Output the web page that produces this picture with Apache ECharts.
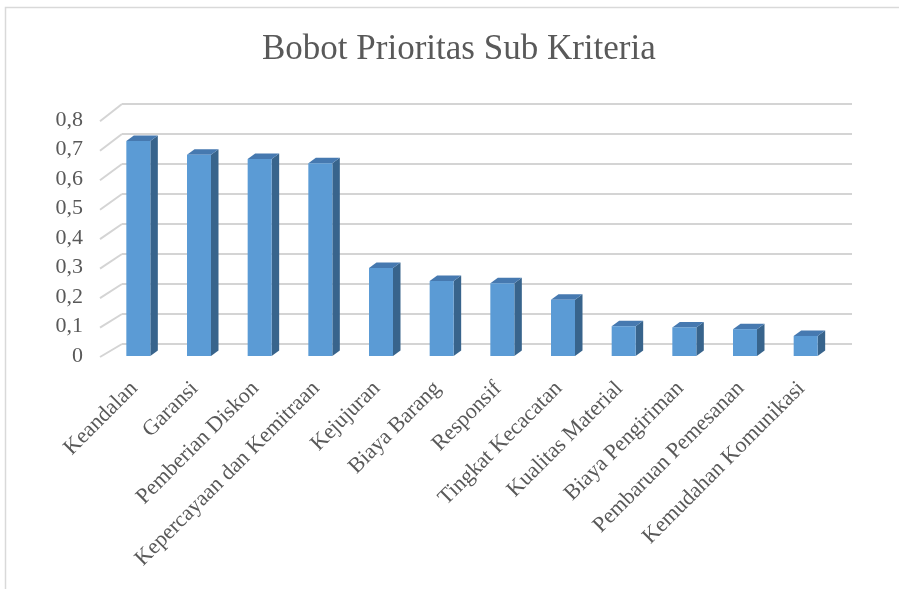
<!DOCTYPE html>
<html>
<head>
<meta charset="utf-8">
<script src="https://cdn.jsdelivr.net/npm/echarts@6/dist/echarts.min.js"></script>
<style>
  html, body { margin: 0; padding: 0; background: #fff; }
  #chart { width: 899px; height: 589px; }
</style>
</head>
<body>
<div id="chart"></div>
<script>
// data
const categories = ['Keandalan', 'Garansi', 'Pemberian Diskon', 'Kepercayaan dan Kemitraan', 'Kejujuran',
  'Biaya Barang', 'Responsif', 'Tingkat Kecacatan', 'Kualitas Material', 'Biaya Pengiriman',
  'Pembaruan Pemesanan', 'Kemudahan Komunikasi']
const weights = [0.729, 0.682, 0.668, 0.653, 0.298, 0.254, 0.247, 0.191, 0.101, 0.097, 0.091, 0.068]
const yTicks = [0, 0.1, 0.2, 0.3, 0.4, 0.5, 0.6, 0.7, 0.8]

const serif = '"Liberation Serif", "Times New Roman", serif'
const textColor = '#595959'
const gridColor = '#d4d4d4'

let myChart = echarts.init(document.getElementById('chart'))

// 3d-looking column: front face + side + top
function renderBar(params, api) {
  let cx = api.coord([api.value(0), 0])[0]
  let yb = api.coord([api.value(0), 0])[1]
  let yt = api.coord([api.value(0), api.value(1)])[1]
  let w = 24, dx = 7.5, dy = 5.5
  let x0 = cx - w / 2, x1 = cx + w / 2
  return {
    type: 'group',
    children: [
      { type: 'polygon', shape: { points: [[x1, yt], [x1 + dx, yt - dy], [x1 + dx, yb - dy], [x1, yb]] },
        style: { fill: '#38648c' } },
      { type: 'polygon', shape: { points: [[x0, yt], [x1, yt], [x1 + dx, yt - dy], [x0 + dx, yt - dy]] },
        style: { fill: '#4679b0' } },
      { type: 'rect', shape: { x: x0, y: yt, width: w, height: yb - yt },
        style: { fill: '#5b9bd5' } }
    ]
  }
}

// little slanted lines joining the front value axis to the back wall
function renderSlant(params, api) {
  let v = api.value(0)
  let p = api.coord([0, v])
  let xb = params.coordSys.x
  return {
    type: 'line',
    shape: { x1: xb, y1: p[1], x2: xb - 22, y2: p[1] + 13 + v * 5.4 },
    style: { stroke: gridColor, lineWidth: 2 }
  }
}

myChart.setOption({
  animation: false,
  backgroundColor: '#fff',
  title: {
    text: 'Bobot Prioritas Sub Kriteria',
    left: 257,
    top: 27,
    textStyle: { fontFamily: serif, fontSize: 35, fontWeight: 'normal', color: textColor }
  },
  graphic: [{
    type: 'rect',
    shape: { x: 5.5, y: 7.5, width: 1000, height: 1000 },
    style: { fill: 'none', stroke: '#d9d9d9', lineWidth: 1.5 },
    silent: true
  }],
  grid: [
    { left: 122, right: 47, top: 104, height: 240 },   // back wall
    { left: 108, right: 63, top: 120, height: 236 }    // front plane
  ],
  xAxis: [
    { gridIndex: 0, type: 'category', data: categories, show: false },
    {
      gridIndex: 1, type: 'category', data: categories,
      axisLine: { show: false }, axisTick: { show: false },
      axisLabel: {
        interval: 0, rotate: 45, margin: 25, padding: [0, 6, 0, 0],
        fontFamily: serif, fontSize: 22, color: textColor
      }
    }
  ],
  yAxis: [
    {
      gridIndex: 0, type: 'value', min: 0, max: 0.8, interval: 0.1,
      axisLabel: { show: false }, axisLine: { show: false }, axisTick: { show: false },
      splitLine: { lineStyle: { color: gridColor, width: 2 } }
    },
    {
      gridIndex: 1, type: 'value', min: 0, max: 0.8, interval: 0.1,
      axisLine: { show: false }, axisTick: { show: false }, splitLine: { show: false },
      axisLabel: {
        margin: 25, fontFamily: serif, fontSize: 22, color: textColor,
        formatter: function (v) { return String(Math.round(v * 10) / 10).replace('.', ',') }
      }
    }
  ],
  series: [
    {
      type: 'custom', xAxisIndex: 0, yAxisIndex: 0,
      renderItem: renderSlant,
      data: yTicks.map(v => [v]),
      encode: { y: 0 },
      silent: true
    },
    {
      type: 'custom', xAxisIndex: 1, yAxisIndex: 1,
      renderItem: renderBar,
      data: weights.map((v, i) => [i, v]),
      encode: { x: 0, y: 1 }
    }
  ]
})
</script>
</body>
</html>
